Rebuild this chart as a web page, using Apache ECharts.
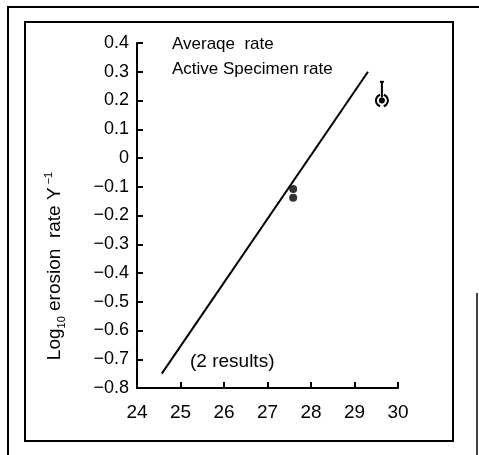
<!DOCTYPE html>
<html>
<head>
<meta charset="utf-8">
<script src="https://cdn.jsdelivr.net/npm/echarts@6/dist/echarts.min.js"></script>
<style>
html,body{margin:0;padding:0;background:#fff;}
#c{width:479px;height:455px;}
</style>
</head>
<body>
<div id="c"></div>
<script>
// Data
var xTicks = [24, 25, 26, 27, 28, 29, 30];
var yTicks = [-0.8, -0.7, -0.6, -0.5, -0.4, -0.3, -0.2, -0.1, 0, 0.1, 0.2, 0.3, 0.4];
var fitLine = [[24.57, -0.75], [29.31, 0.30]];
var activePoints = [[27.59, -0.108], [27.59, -0.138]];
var averagePoint = [[29.63, 0.20]];
var averageErrTop = [0.265];
var legendTexts = ['Averaqe  rate', 'Active Specimen rate'];
var noteText = '(2 results)';

var regular = "'Liberation Sans', Arial, sans-serif";

var chart = echarts.init(document.getElementById('c'), null, {renderer: 'canvas'});

function fmtY(v) {
  var s = Math.abs(v) < 1e-9 ? '0' : v.toFixed(1);
  return s.replace('-', '\u2212');
}

var option = {
  backgroundColor: '#fff',
  animation: false,
  grid: {left: 137, right: 81, top: 43, bottom: 67, containLabel: false},
  xAxis: {
    type: 'value',
    min: xTicks[0],
    max: xTicks[xTicks.length - 1],
    interval: 1,
    axisLine: {show: true, onZero: false, lineStyle: {color: '#000', width: 2}},
    axisTick: {show: true, inside: true, length: 6, lineStyle: {color: '#000', width: 2}},
    splitLine: {show: false},
    axisLabel: {color: '#000', fontFamily: regular, fontSize: 19, margin: 15}
  },
  yAxis: {
    type: 'value',
    min: yTicks[0],
    max: yTicks[yTicks.length - 1],
    interval: 0.1,
    axisLine: {show: true, onZero: false, lineStyle: {color: '#000', width: 2}},
    axisTick: {show: true, inside: true, length: 6, lineStyle: {color: '#000', width: 2}},
    splitLine: {show: false},
    axisLabel: {color: '#000', fontFamily: regular, fontSize: 18, margin: 8, formatter: fmtY}
  },
  series: [
    {
      type: 'line',
      data: fitLine,
      symbol: 'none',
      lineStyle: {color: '#000', width: 2},
      silent: true
    },
    {
      type: 'scatter',
      data: activePoints,
      symbol: 'circle',
      symbolSize: 8,
      itemStyle: {color: '#000'}
    },
    {
      type: 'custom',
      data: averagePoint.map(function (p, i) { return [p[0], p[1], averageErrTop[i]]; }),
      renderItem: function (params, api) {
        var base = api.coord([api.value(0), api.value(1)]);
        var top = api.coord([api.value(0), api.value(2)]);
        return {
          type: 'group',
          children: [
            {type: 'line', shape: {x1: base[0], y1: base[1] - 3, x2: top[0], y2: top[1]},
              style: {stroke: '#000', lineWidth: 2}},
            {type: 'line', shape: {x1: top[0] - 2, y1: top[1], x2: top[0] + 2, y2: top[1]},
              style: {stroke: '#000', lineWidth: 2}},
            {type: 'arc', shape: {cx: base[0], cy: base[1], r: 6, startAngle: Math.PI * 0.6, endAngle: Math.PI * 1.4},
              style: {stroke: '#000', lineWidth: 2, fill: null}},
            {type: 'arc', shape: {cx: base[0], cy: base[1], r: 6, startAngle: -Math.PI * 0.4, endAngle: Math.PI * 0.4},
              style: {stroke: '#000', lineWidth: 2, fill: null}},
            {type: 'circle', shape: {cx: base[0], cy: base[1], r: 3}, style: {fill: '#000'}}
          ]
        };
      }
    }
  ],
  graphic: [
    {type: 'rect', shape: {x: 25, y: 22, width: 428, height: 419}, style: {fill: null, stroke: '#000', lineWidth: 2}, silent: true},
    {type: 'polyline', shape: {points: [[8, 455], [8, 7], [479, 7]]}, style: {fill: null, stroke: '#000', lineWidth: 2}, silent: true},
    {type: 'line', shape: {x1: 477, y1: 293, x2: 477, y2: 455}, style: {stroke: '#000', lineWidth: 1.5}, silent: true},
    {type: 'text', x: 172, y: 44, style: {text: legendTexts[0], fill: '#000', font: '17px ' + regular, verticalAlign: 'middle'}},
    {type: 'text', x: 172, y: 69, style: {text: legendTexts[1], fill: '#000', font: '17px ' + regular, verticalAlign: 'middle'}},
    {type: 'text', x: 190, y: 362, style: {text: noteText, fill: '#000', font: '19px ' + regular, verticalAlign: 'middle'}},
    {
      type: 'text', x: 55, y: 266, rotation: Math.PI / 2,
      style: {
        text: '{a|Log}{s|10}{a| erosion  rate Y}{p| \u22121}',
        align: 'center', verticalAlign: 'middle', fill: '#000',
        rich: {
          a: {fontFamily: regular, fontSize: 19, fill: '#000', lineHeight: 24},
          s: {fontFamily: regular, fontSize: 11, fill: '#000', verticalAlign: 'bottom', lineHeight: 24},
          p: {fontFamily: regular, fontSize: 11, fill: '#000', verticalAlign: 'top', lineHeight: 24}
        }
      }
    }
  ]
};
chart.setOption(option);
</script>
</body>
</html>
